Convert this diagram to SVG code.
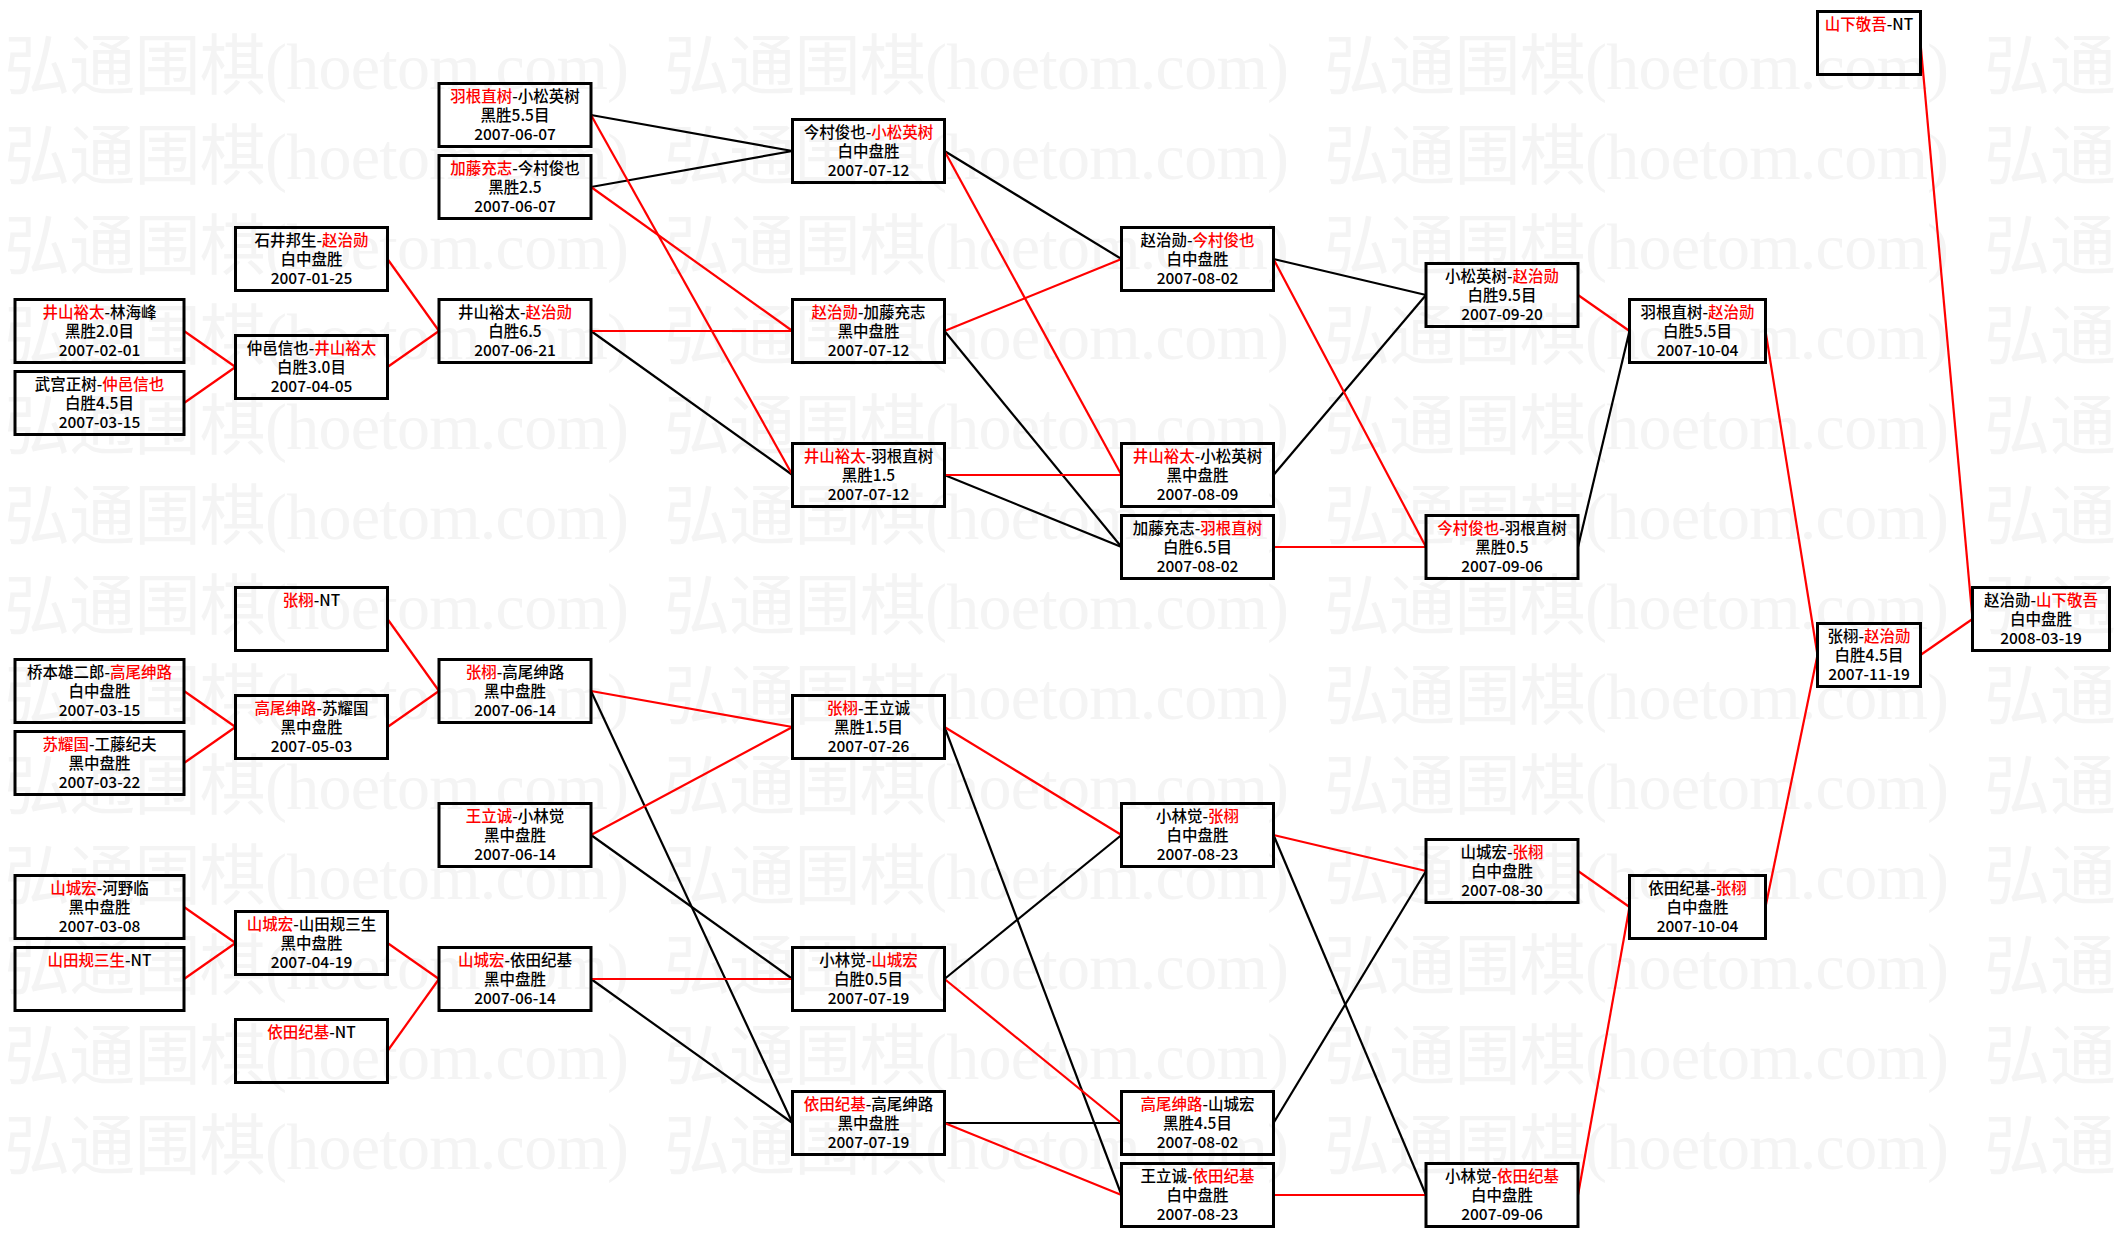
<svg xmlns="http://www.w3.org/2000/svg" width="2121" height="1237" viewBox="0 0 2121 1237">
<style>
.bg{fill:#ffffff}
.wm{font-family:"Liberation Serif","Noto Sans CJK SC",serif;font-size:66px;fill:#f4f4f4}
.box{fill:none;stroke:#000000;stroke-width:3}
.t{font-family:"Noto Sans CJK SC","Noto Sans CJK JP",sans-serif;font-size:15.5px;font-weight:500;text-anchor:middle;fill:#000000}
.r{fill:#ff0000}
.k{stroke:#000000;stroke-width:2.2;fill:none}
.rd{stroke:#ff0000;stroke-width:2.2;fill:none}
</style>
<rect class="bg" x="0" y="0" width="2121" height="1237"/>
<g id="watermark">
<text class="wm" x="4" y="89" textLength="625" lengthAdjust="spacing">弘通围棋(hoetom.com)</text><text class="wm" x="664" y="89" textLength="625" lengthAdjust="spacing">弘通围棋(hoetom.com)</text><text class="wm" x="1324" y="89" textLength="625" lengthAdjust="spacing">弘通围棋(hoetom.com)</text><text class="wm" x="1984" y="89">弘通</text>
<text class="wm" x="4" y="179" textLength="625" lengthAdjust="spacing">弘通围棋(hoetom.com)</text><text class="wm" x="664" y="179" textLength="625" lengthAdjust="spacing">弘通围棋(hoetom.com)</text><text class="wm" x="1324" y="179" textLength="625" lengthAdjust="spacing">弘通围棋(hoetom.com)</text><text class="wm" x="1984" y="179">弘通</text>
<text class="wm" x="4" y="269" textLength="625" lengthAdjust="spacing">弘通围棋(hoetom.com)</text><text class="wm" x="664" y="269" textLength="625" lengthAdjust="spacing">弘通围棋(hoetom.com)</text><text class="wm" x="1324" y="269" textLength="625" lengthAdjust="spacing">弘通围棋(hoetom.com)</text><text class="wm" x="1984" y="269">弘通</text>
<text class="wm" x="4" y="359" textLength="625" lengthAdjust="spacing">弘通围棋(hoetom.com)</text><text class="wm" x="664" y="359" textLength="625" lengthAdjust="spacing">弘通围棋(hoetom.com)</text><text class="wm" x="1324" y="359" textLength="625" lengthAdjust="spacing">弘通围棋(hoetom.com)</text><text class="wm" x="1984" y="359">弘通</text>
<text class="wm" x="4" y="449" textLength="625" lengthAdjust="spacing">弘通围棋(hoetom.com)</text><text class="wm" x="664" y="449" textLength="625" lengthAdjust="spacing">弘通围棋(hoetom.com)</text><text class="wm" x="1324" y="449" textLength="625" lengthAdjust="spacing">弘通围棋(hoetom.com)</text><text class="wm" x="1984" y="449">弘通</text>
<text class="wm" x="4" y="539" textLength="625" lengthAdjust="spacing">弘通围棋(hoetom.com)</text><text class="wm" x="664" y="539" textLength="625" lengthAdjust="spacing">弘通围棋(hoetom.com)</text><text class="wm" x="1324" y="539" textLength="625" lengthAdjust="spacing">弘通围棋(hoetom.com)</text><text class="wm" x="1984" y="539">弘通</text>
<text class="wm" x="4" y="629" textLength="625" lengthAdjust="spacing">弘通围棋(hoetom.com)</text><text class="wm" x="664" y="629" textLength="625" lengthAdjust="spacing">弘通围棋(hoetom.com)</text><text class="wm" x="1324" y="629" textLength="625" lengthAdjust="spacing">弘通围棋(hoetom.com)</text><text class="wm" x="1984" y="629">弘通</text>
<text class="wm" x="4" y="719" textLength="625" lengthAdjust="spacing">弘通围棋(hoetom.com)</text><text class="wm" x="664" y="719" textLength="625" lengthAdjust="spacing">弘通围棋(hoetom.com)</text><text class="wm" x="1324" y="719" textLength="625" lengthAdjust="spacing">弘通围棋(hoetom.com)</text><text class="wm" x="1984" y="719">弘通</text>
<text class="wm" x="4" y="809" textLength="625" lengthAdjust="spacing">弘通围棋(hoetom.com)</text><text class="wm" x="664" y="809" textLength="625" lengthAdjust="spacing">弘通围棋(hoetom.com)</text><text class="wm" x="1324" y="809" textLength="625" lengthAdjust="spacing">弘通围棋(hoetom.com)</text><text class="wm" x="1984" y="809">弘通</text>
<text class="wm" x="4" y="899" textLength="625" lengthAdjust="spacing">弘通围棋(hoetom.com)</text><text class="wm" x="664" y="899" textLength="625" lengthAdjust="spacing">弘通围棋(hoetom.com)</text><text class="wm" x="1324" y="899" textLength="625" lengthAdjust="spacing">弘通围棋(hoetom.com)</text><text class="wm" x="1984" y="899">弘通</text>
<text class="wm" x="4" y="989" textLength="625" lengthAdjust="spacing">弘通围棋(hoetom.com)</text><text class="wm" x="664" y="989" textLength="625" lengthAdjust="spacing">弘通围棋(hoetom.com)</text><text class="wm" x="1324" y="989" textLength="625" lengthAdjust="spacing">弘通围棋(hoetom.com)</text><text class="wm" x="1984" y="989">弘通</text>
<text class="wm" x="4" y="1079" textLength="625" lengthAdjust="spacing">弘通围棋(hoetom.com)</text><text class="wm" x="664" y="1079" textLength="625" lengthAdjust="spacing">弘通围棋(hoetom.com)</text><text class="wm" x="1324" y="1079" textLength="625" lengthAdjust="spacing">弘通围棋(hoetom.com)</text><text class="wm" x="1984" y="1079">弘通</text>
<text class="wm" x="4" y="1169" textLength="625" lengthAdjust="spacing">弘通围棋(hoetom.com)</text><text class="wm" x="664" y="1169" textLength="625" lengthAdjust="spacing">弘通围棋(hoetom.com)</text><text class="wm" x="1324" y="1169" textLength="625" lengthAdjust="spacing">弘通围棋(hoetom.com)</text><text class="wm" x="1984" y="1169">弘通</text>
</g>
<g id="connectors">
<line class="k" x1="591" y1="115" x2="792.5" y2="151"/>
<line class="k" x1="591" y1="187" x2="792.5" y2="151"/>
<line class="k" x1="591" y1="331" x2="792.5" y2="475"/>
<line class="k" x1="591" y1="691" x2="792.5" y2="1123"/>
<line class="k" x1="591" y1="835" x2="792.5" y2="979"/>
<line class="k" x1="591" y1="979" x2="792.5" y2="1123"/>
<line class="k" x1="944.5" y1="151" x2="1121.5" y2="259"/>
<line class="k" x1="944.5" y1="331" x2="1121.5" y2="547"/>
<line class="k" x1="944.5" y1="475" x2="1121.5" y2="547"/>
<line class="k" x1="944.5" y1="727" x2="1121.5" y2="1195"/>
<line class="k" x1="944.5" y1="979" x2="1121.5" y2="835"/>
<line class="k" x1="944.5" y1="1123" x2="1121.5" y2="1123"/>
<line class="k" x1="1273.5" y1="259" x2="1426" y2="295"/>
<line class="k" x1="1273.5" y1="475" x2="1426" y2="295"/>
<line class="k" x1="1273.5" y1="835" x2="1426" y2="1195"/>
<line class="k" x1="1273.5" y1="1123" x2="1426" y2="871"/>
<line class="k" x1="1578" y1="547" x2="1629.5" y2="331"/>
<line class="rd" x1="184" y1="331" x2="235.5" y2="367"/>
<line class="rd" x1="184" y1="403" x2="235.5" y2="367"/>
<line class="rd" x1="184" y1="691" x2="235.5" y2="727"/>
<line class="rd" x1="184" y1="763" x2="235.5" y2="727"/>
<line class="rd" x1="184" y1="907" x2="235.5" y2="943"/>
<line class="rd" x1="184" y1="979" x2="235.5" y2="943"/>
<line class="rd" x1="387.5" y1="259" x2="439" y2="331"/>
<line class="rd" x1="387.5" y1="367" x2="439" y2="331"/>
<line class="rd" x1="387.5" y1="619" x2="439" y2="691"/>
<line class="rd" x1="387.5" y1="727" x2="439" y2="691"/>
<line class="rd" x1="387.5" y1="943" x2="439" y2="979"/>
<line class="rd" x1="387.5" y1="1051" x2="439" y2="979"/>
<line class="rd" x1="591" y1="115" x2="792.5" y2="475"/>
<line class="rd" x1="591" y1="187" x2="792.5" y2="331"/>
<line class="rd" x1="591" y1="331" x2="792.5" y2="331"/>
<line class="rd" x1="591" y1="691" x2="792.5" y2="727"/>
<line class="rd" x1="591" y1="835" x2="792.5" y2="727"/>
<line class="rd" x1="591" y1="979" x2="792.5" y2="979"/>
<line class="rd" x1="944.5" y1="151" x2="1121.5" y2="475"/>
<line class="rd" x1="944.5" y1="331" x2="1121.5" y2="259"/>
<line class="rd" x1="944.5" y1="475" x2="1121.5" y2="475"/>
<line class="rd" x1="944.5" y1="727" x2="1121.5" y2="835"/>
<line class="rd" x1="944.5" y1="979" x2="1121.5" y2="1123"/>
<line class="rd" x1="944.5" y1="1123" x2="1121.5" y2="1195"/>
<line class="rd" x1="1273.5" y1="259" x2="1426" y2="547"/>
<line class="rd" x1="1273.5" y1="547" x2="1426" y2="547"/>
<line class="rd" x1="1273.5" y1="835" x2="1426" y2="871"/>
<line class="rd" x1="1273.5" y1="1195" x2="1426" y2="1195"/>
<line class="rd" x1="1578" y1="295" x2="1629.5" y2="331"/>
<line class="rd" x1="1578" y1="871" x2="1629.5" y2="907"/>
<line class="rd" x1="1578" y1="1195" x2="1629.5" y2="907"/>
<line class="rd" x1="1765.5" y1="331" x2="1817.5" y2="655"/>
<line class="rd" x1="1765.5" y1="907" x2="1817.5" y2="655"/>
<line class="rd" x1="1920.5" y1="43" x2="1972.5" y2="619"/>
<line class="rd" x1="1920.5" y1="655" x2="1972.5" y2="619"/>
</g>
<g id="n1a"><rect class="box" x="15" y="299.5" width="169" height="63"/><text class="t" x="99.5" y="318"><tspan class="r">井山裕太</tspan>-林海峰</text><text class="t" x="99.5" y="337">黑胜2.0目</text><text class="t" x="99.5" y="356">2007-02-01</text></g>
<g id="n1b"><rect class="box" x="15" y="371.5" width="169" height="63"/><text class="t" x="99.5" y="390">武宫正树-<tspan class="r">仲邑信也</tspan></text><text class="t" x="99.5" y="409">白胜4.5目</text><text class="t" x="99.5" y="428">2007-03-15</text></g>
<g id="n1c"><rect class="box" x="15" y="659.5" width="169" height="63"/><text class="t" x="99.5" y="678">桥本雄二郎-<tspan class="r">高尾绅路</tspan></text><text class="t" x="99.5" y="697">白中盘胜</text><text class="t" x="99.5" y="716">2007-03-15</text></g>
<g id="n1d"><rect class="box" x="15" y="731.5" width="169" height="63"/><text class="t" x="99.5" y="750"><tspan class="r">苏耀国</tspan>-工藤纪夫</text><text class="t" x="99.5" y="769">黑中盘胜</text><text class="t" x="99.5" y="788">2007-03-22</text></g>
<g id="n1e"><rect class="box" x="15" y="875.5" width="169" height="63"/><text class="t" x="99.5" y="894"><tspan class="r">山城宏</tspan>-河野临</text><text class="t" x="99.5" y="913">黑中盘胜</text><text class="t" x="99.5" y="932">2007-03-08</text></g>
<g id="n1f"><rect class="box" x="15" y="947.5" width="169" height="63"/><text class="t" x="99.5" y="966"><tspan class="r">山田规三生</tspan>-NT</text></g>
<g id="n2a"><rect class="box" x="235.5" y="227.5" width="152" height="63"/><text class="t" x="311.5" y="246">石井邦生-<tspan class="r">赵治勋</tspan></text><text class="t" x="311.5" y="265">白中盘胜</text><text class="t" x="311.5" y="284">2007-01-25</text></g>
<g id="n2b"><rect class="box" x="235.5" y="335.5" width="152" height="63"/><text class="t" x="311.5" y="354">仲邑信也-<tspan class="r">井山裕太</tspan></text><text class="t" x="311.5" y="373">白胜3.0目</text><text class="t" x="311.5" y="392">2007-04-05</text></g>
<g id="n2c"><rect class="box" x="235.5" y="587.5" width="152" height="63"/><text class="t" x="311.5" y="606"><tspan class="r">张栩</tspan>-NT</text></g>
<g id="n2d"><rect class="box" x="235.5" y="695.5" width="152" height="63"/><text class="t" x="311.5" y="714"><tspan class="r">高尾绅路</tspan>-苏耀国</text><text class="t" x="311.5" y="733">黑中盘胜</text><text class="t" x="311.5" y="752">2007-05-03</text></g>
<g id="n2e"><rect class="box" x="235.5" y="911.5" width="152" height="63"/><text class="t" x="311.5" y="930"><tspan class="r">山城宏</tspan>-山田规三生</text><text class="t" x="311.5" y="949">黑中盘胜</text><text class="t" x="311.5" y="968">2007-04-19</text></g>
<g id="n2f"><rect class="box" x="235.5" y="1019.5" width="152" height="63"/><text class="t" x="311.5" y="1038"><tspan class="r">依田纪基</tspan>-NT</text></g>
<g id="n3a"><rect class="box" x="439" y="83.5" width="152" height="63"/><text class="t" x="515" y="102"><tspan class="r">羽根直树</tspan>-小松英树</text><text class="t" x="515" y="121">黑胜5.5目</text><text class="t" x="515" y="140">2007-06-07</text></g>
<g id="n3b"><rect class="box" x="439" y="155.5" width="152" height="63"/><text class="t" x="515" y="174"><tspan class="r">加藤充志</tspan>-今村俊也</text><text class="t" x="515" y="193">黑胜2.5</text><text class="t" x="515" y="212">2007-06-07</text></g>
<g id="n3c"><rect class="box" x="439" y="299.5" width="152" height="63"/><text class="t" x="515" y="318">井山裕太-<tspan class="r">赵治勋</tspan></text><text class="t" x="515" y="337">白胜6.5</text><text class="t" x="515" y="356">2007-06-21</text></g>
<g id="n3d"><rect class="box" x="439" y="659.5" width="152" height="63"/><text class="t" x="515" y="678"><tspan class="r">张栩</tspan>-高尾绅路</text><text class="t" x="515" y="697">黑中盘胜</text><text class="t" x="515" y="716">2007-06-14</text></g>
<g id="n3e"><rect class="box" x="439" y="803.5" width="152" height="63"/><text class="t" x="515" y="822"><tspan class="r">王立诚</tspan>-小林觉</text><text class="t" x="515" y="841">黑中盘胜</text><text class="t" x="515" y="860">2007-06-14</text></g>
<g id="n3f"><rect class="box" x="439" y="947.5" width="152" height="63"/><text class="t" x="515" y="966"><tspan class="r">山城宏</tspan>-依田纪基</text><text class="t" x="515" y="985">黑中盘胜</text><text class="t" x="515" y="1004">2007-06-14</text></g>
<g id="n4a"><rect class="box" x="792.5" y="119.5" width="152" height="63"/><text class="t" x="868.5" y="138">今村俊也-<tspan class="r">小松英树</tspan></text><text class="t" x="868.5" y="157">白中盘胜</text><text class="t" x="868.5" y="176">2007-07-12</text></g>
<g id="n4b"><rect class="box" x="792.5" y="299.5" width="152" height="63"/><text class="t" x="868.5" y="318"><tspan class="r">赵治勋</tspan>-加藤充志</text><text class="t" x="868.5" y="337">黑中盘胜</text><text class="t" x="868.5" y="356">2007-07-12</text></g>
<g id="n4c"><rect class="box" x="792.5" y="443.5" width="152" height="63"/><text class="t" x="868.5" y="462"><tspan class="r">井山裕太</tspan>-羽根直树</text><text class="t" x="868.5" y="481">黑胜1.5</text><text class="t" x="868.5" y="500">2007-07-12</text></g>
<g id="n4d"><rect class="box" x="792.5" y="695.5" width="152" height="63"/><text class="t" x="868.5" y="714"><tspan class="r">张栩</tspan>-王立诚</text><text class="t" x="868.5" y="733">黑胜1.5目</text><text class="t" x="868.5" y="752">2007-07-26</text></g>
<g id="n4e"><rect class="box" x="792.5" y="947.5" width="152" height="63"/><text class="t" x="868.5" y="966">小林觉-<tspan class="r">山城宏</tspan></text><text class="t" x="868.5" y="985">白胜0.5目</text><text class="t" x="868.5" y="1004">2007-07-19</text></g>
<g id="n4f"><rect class="box" x="792.5" y="1091.5" width="152" height="63"/><text class="t" x="868.5" y="1110"><tspan class="r">依田纪基</tspan>-高尾绅路</text><text class="t" x="868.5" y="1129">黑中盘胜</text><text class="t" x="868.5" y="1148">2007-07-19</text></g>
<g id="n5a"><rect class="box" x="1121.5" y="227.5" width="152" height="63"/><text class="t" x="1197.5" y="246">赵治勋-<tspan class="r">今村俊也</tspan></text><text class="t" x="1197.5" y="265">白中盘胜</text><text class="t" x="1197.5" y="284">2007-08-02</text></g>
<g id="n5b"><rect class="box" x="1121.5" y="443.5" width="152" height="63"/><text class="t" x="1197.5" y="462"><tspan class="r">井山裕太</tspan>-小松英树</text><text class="t" x="1197.5" y="481">黑中盘胜</text><text class="t" x="1197.5" y="500">2007-08-09</text></g>
<g id="n5c"><rect class="box" x="1121.5" y="515.5" width="152" height="63"/><text class="t" x="1197.5" y="534">加藤充志-<tspan class="r">羽根直树</tspan></text><text class="t" x="1197.5" y="553">白胜6.5目</text><text class="t" x="1197.5" y="572">2007-08-02</text></g>
<g id="n5d"><rect class="box" x="1121.5" y="803.5" width="152" height="63"/><text class="t" x="1197.5" y="822">小林觉-<tspan class="r">张栩</tspan></text><text class="t" x="1197.5" y="841">白中盘胜</text><text class="t" x="1197.5" y="860">2007-08-23</text></g>
<g id="n5e"><rect class="box" x="1121.5" y="1091.5" width="152" height="63"/><text class="t" x="1197.5" y="1110"><tspan class="r">高尾绅路</tspan>-山城宏</text><text class="t" x="1197.5" y="1129">黑胜4.5目</text><text class="t" x="1197.5" y="1148">2007-08-02</text></g>
<g id="n5f"><rect class="box" x="1121.5" y="1163.5" width="152" height="63"/><text class="t" x="1197.5" y="1182">王立诚-<tspan class="r">依田纪基</tspan></text><text class="t" x="1197.5" y="1201">白中盘胜</text><text class="t" x="1197.5" y="1220">2007-08-23</text></g>
<g id="n6a"><rect class="box" x="1426" y="263.5" width="152" height="63"/><text class="t" x="1502" y="282">小松英树-<tspan class="r">赵治勋</tspan></text><text class="t" x="1502" y="301">白胜9.5目</text><text class="t" x="1502" y="320">2007-09-20</text></g>
<g id="n6b"><rect class="box" x="1426" y="515.5" width="152" height="63"/><text class="t" x="1502" y="534"><tspan class="r">今村俊也</tspan>-羽根直树</text><text class="t" x="1502" y="553">黑胜0.5</text><text class="t" x="1502" y="572">2007-09-06</text></g>
<g id="n6c"><rect class="box" x="1426" y="839.5" width="152" height="63"/><text class="t" x="1502" y="858">山城宏-<tspan class="r">张栩</tspan></text><text class="t" x="1502" y="877">白中盘胜</text><text class="t" x="1502" y="896">2007-08-30</text></g>
<g id="n6d"><rect class="box" x="1426" y="1163.5" width="152" height="63"/><text class="t" x="1502" y="1182">小林觉-<tspan class="r">依田纪基</tspan></text><text class="t" x="1502" y="1201">白中盘胜</text><text class="t" x="1502" y="1220">2007-09-06</text></g>
<g id="n7a"><rect class="box" x="1629.5" y="299.5" width="136" height="63"/><text class="t" x="1697.5" y="318">羽根直树-<tspan class="r">赵治勋</tspan></text><text class="t" x="1697.5" y="337">白胜5.5目</text><text class="t" x="1697.5" y="356">2007-10-04</text></g>
<g id="n7b"><rect class="box" x="1629.5" y="875.5" width="136" height="63"/><text class="t" x="1697.5" y="894">依田纪基-<tspan class="r">张栩</tspan></text><text class="t" x="1697.5" y="913">白中盘胜</text><text class="t" x="1697.5" y="932">2007-10-04</text></g>
<g id="n8a"><rect class="box" x="1817.5" y="11.5" width="103" height="63"/><text class="t" x="1869" y="30"><tspan class="r">山下敬吾</tspan>-NT</text></g>
<g id="n8b"><rect class="box" x="1817.5" y="623.5" width="103" height="63"/><text class="t" x="1869" y="642">张栩-<tspan class="r">赵治勋</tspan></text><text class="t" x="1869" y="661">白胜4.5目</text><text class="t" x="1869" y="680">2007-11-19</text></g>
<g id="n9a"><rect class="box" x="1972.5" y="587.5" width="137" height="63"/><text class="t" x="2041" y="606">赵治勋-<tspan class="r">山下敬吾</tspan></text><text class="t" x="2041" y="625">白中盘胜</text><text class="t" x="2041" y="644">2008-03-19</text></g>
</svg>
